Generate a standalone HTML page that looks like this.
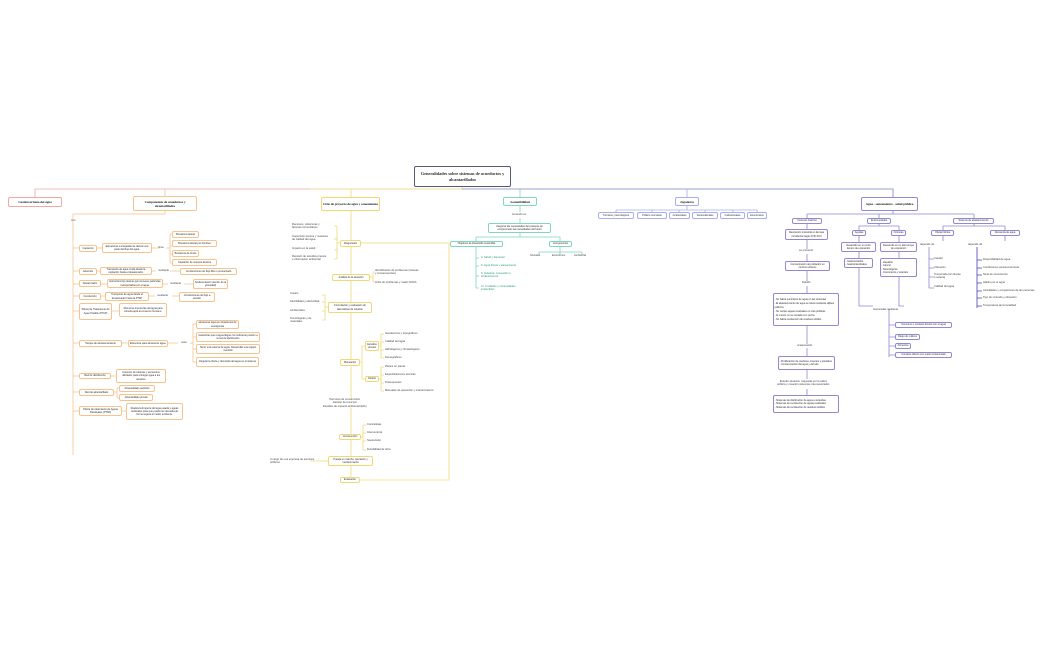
<!DOCTYPE html>
<html><head><meta charset="utf-8"><style>
body{margin:0;width:1050px;height:650px;background:#fff;position:relative;overflow:hidden;font-family:"Liberation Sans",sans-serif;}
.b{position:absolute;border:1px solid;border-radius:2px;background:#fff;font-size:2.6px;line-height:3.2px;text-align:center;display:flex;align-items:center;justify-content:center;box-sizing:border-box;color:#333;padding:0 0.5px;letter-spacing:-0.05px;}
.t{position:absolute;font-size:2.7px;line-height:3.4px;color:#444;white-space:nowrap;}
.o{border-color:#f5c48e}.y{border-color:#f0d877}.g{border-color:#7fd8b6}.u{border-color:#a6aef0}.p{border-color:#9189d2}
.L{text-align:left;justify-content:flex-start}
.h{font-weight:bold;font-family:"Liberation Serif",serif;color:#222;font-size:3.3px;line-height:4px}
svg{position:absolute;left:0;top:0}
</style></head><body>
<svg width="1050" height="650" fill="none" stroke-width="0.8">
<path d="M35 197V189H310" stroke="#f3a6a4"/>
<path d="M165 196V189" stroke="#f5c48e"/>
<path d="M310 189H462V187" stroke="#f0cf77"/>
<path d="M351 197V189" stroke="#f0d877"/>
<path d="M462 189H893V197" stroke="#7b83c8"/>
<path d="M520 197V189" stroke="#7fd8b6"/>
<path d="M687 197V189" stroke="#a6aef0"/>
<g stroke="#f5c48e">
<path d="M165 211V214H73V455"/>
<path d="M73 248H79M97 248H102M152 248H158M166 248H170M170 234V263M170 234H172M170 246H172M170 254H172M170 263H172"/>
<path d="M73 271H79M97 271H100M152 271H156M170 271H180"/>
<path d="M73 284H79M101 284H107M163 284H168M184 284H193"/>
<path d="M73 296H79M101 296H105M149 296H155M172 296H179"/>
<path d="M73 311H79M112 311H119"/>
<path d="M73 343H79M122 343H128M168 343H178M190 343H193M193 324V362M193 324H196M193 337H196M193 349H196M193 362H196"/>
<path d="M73 376H79M111 376H116"/>
<path d="M73 392H79M114 392H117M117 388V398M117 388H119M117 398H119"/>
<path d="M73 411H79M122 411H126"/>
</g>
<g stroke="#f0d877">
<path d="M351 211V477"/>
<path d="M340 243H337M337 226V259M337 226H334M337 239H334M337 250H334M337 259H334"/>
<path d="M370 277H373M373 272V282M373 272H375M373 282H375"/>
<path d="M328 307H325M325 295V320M325 295H322M325 302H322M325 311H322M325 320H322"/>
<path d="M360 362H362M362 346V379M362 346H365M362 379H365M379 346H381M381 334V358M381 334H384M381 342H384M381 350H384M381 358H384M379 379H381M381 367V391M381 367H384M381 375H384M381 383H384M381 391H384"/>
<path d="M361 437H363M363 425V450M363 425H366M363 433H366M363 441H366M363 450H366"/>
<path d="M328 461H310"/>
<path d="M361 243H449V480H360"/>
</g>
<g stroke="#7fd8b6">
<path d="M520 206V212M520 218V223M520 233V237H476V241M476 237H560V241M476 247V288M476 258H479M476 266H479M476 276H479M476 288H479"/>
<path d="M560 247V252M539 252H582M539 252V255M560 252V255M582 252V255"/>
</g>
<path d="M687 206V210M616 210H757M616 210V212M652 210V212M679 210V212M705 210V212M733 210V212M757 210V212" stroke="#a6aef0"/>
<g stroke="#8f86d0">
<path d="M893 211V214M807 214H974M807 214V218M879 214V218M974 214V218"/>
<path d="M807 223V229M807 240V249M807 254V261M807 271V281M807 286V293M807 326V344M807 348V356M807 370V379M807 389V395"/>
<path d="M879 223V226M859 226H899M859 226V230M899 226V230M859 236V242M899 236V242M859 252V258M899 252V258"/>
<path d="M859 268V306H873M899 277V306H904M889 309V357M889 325H895M889 337H895M889 346H895M889 355H895"/>
<path d="M974 223V226M943 226H1005M943 226V230M1005 226V230M943 236V241M1005 236V241"/>
<path d="M929 247V288M929 259H934M929 268H934M929 277H934M929 288H934"/>
<path d="M977 247V308M977 260H982M977 268H982M977 275H982M977 283H982M977 291H982M977 298H982M977 306H982" stroke="#4a3fbf"/>
</g>
</svg>

<div class="b" style="left:414px;top:166px;width:97px;height:21px;border-color:#5a5870;font-size:4.4px;line-height:5.5px;font-weight:bold;font-family:'Liberation Serif',serif;color:#333;">Generalidades sobre sistemas de acueductos y alcantarillados</div>

<div class="b h" style="left:8px;top:197px;width:54px;height:10px;border-color:#f3a6a4;">Gestión urbana del agua</div>
<div class="b o h" style="left:133px;top:196px;width:64px;height:15px;">Componentes de acueductos y alcantarillados</div>
<div class="b y h" style="left:321px;top:197px;width:59px;height:14px;">Ciclo de proyecto de agua y saneamiento</div>
<div class="b g h" style="left:503px;top:197px;width:34px;height:9px;">Sostenibilidad</div>
<div class="b u h" style="left:675px;top:197px;width:24px;height:9px;">Jugadores</div>
<div class="b p h" style="left:861px;top:197px;width:57px;height:14px;">Agua - saneamiento - salud pública</div>

<div class="t" style="left:71px;top:219px">con</div>
<div class="b o" style="left:79px;top:245px;width:18px;height:7px">Captación</div>
<div class="b o" style="left:102px;top:243px;width:50px;height:10px">Estructuras encargadas de derivar una parte del flujo del agua.</div>
<div class="t" style="left:158px;top:246px">tipos</div>
<div class="b o" style="left:172px;top:231px;width:27px;height:7px">Bocatoma lateral</div>
<div class="b o" style="left:172px;top:240px;width:45px;height:7px">Bocatoma lateral por bombeo</div>
<div class="b o" style="left:172px;top:250px;width:27px;height:7px">Bocatoma de fondo</div>
<div class="b o" style="left:172px;top:259px;width:45px;height:7px">Captación de cuerpos lénticos</div>
<div class="b o" style="left:79px;top:268px;width:18px;height:7px">Aducción</div>
<div class="b o" style="left:100px;top:267px;width:52px;height:8px">Transporte de agua cruda desde la captación hasta el desarenador.</div>
<div class="t" style="left:158px;top:269px">mediante</div>
<div class="b o" style="left:180px;top:268px;width:57px;height:7px">Conducciones de flujo libre o presurizado</div>
<div class="b o" style="left:79px;top:280px;width:22px;height:7px">Desarenador</div>
<div class="b o" style="left:107px;top:279px;width:56px;height:9px">Estructura tipo tanque que remueve partículas transportadas por el agua.</div>
<div class="t" style="left:170px;top:282px">mediante</div>
<div class="b o" style="left:193px;top:279px;width:35px;height:10px">Sedimentación (acción de la gravedad)</div>
<div class="b o" style="left:79px;top:293px;width:22px;height:7px">Conducción</div>
<div class="b o" style="left:105px;top:292px;width:44px;height:9px">Transporte de agua desde el desarenador hasta la PTAP</div>
<div class="t" style="left:157px;top:294px">mediante</div>
<div class="b o" style="left:179px;top:292px;width:36px;height:10px">Conducciones de flujo a presión</div>
<div class="b o" style="left:79px;top:303px;width:33px;height:17px">Planta de Tratamiento de Agua Potable (PTAP)</div>
<div class="b o" style="left:119px;top:303px;width:48px;height:14px">Remueve impurezas del agua para volverla apta al consumo humano.</div>
<div class="b o" style="left:79px;top:340px;width:43px;height:7px">Tanque de almacenamiento</div>
<div class="b o" style="left:128px;top:340px;width:40px;height:7px">Estructura para almacenar agua.</div>
<div class="t" style="left:181px;top:341px">usos</div>
<div class="b o" style="left:196px;top:320px;width:43px;height:9px">almacenar agua en situaciones de emergencia</div>
<div class="b o" style="left:196px;top:332px;width:64px;height:10px">Garantizar que el agua llegue con suficiente presión a la red de distribución</div>
<div class="b o" style="left:196px;top:344px;width:64px;height:10px">Tener una reserva de agua. Desarrollar una equipo invertido</div>
<div class="b o" style="left:196px;top:357px;width:63px;height:10px">Regular la oferta y demanda del agua en el sistema</div>
<div class="b o" style="left:79px;top:373px;width:32px;height:6px">Red de distribución</div>
<div class="b o" style="left:116px;top:369px;width:50px;height:14px">Conjunto de tuberías y accesorios utilizados para entregar agua a los usuarios.</div>
<div class="b o" style="left:79px;top:389px;width:35px;height:7px">Red de alcantarillado</div>
<div class="b o" style="left:119px;top:385px;width:36px;height:7px">Alcantarillado sanitario</div>
<div class="b o" style="left:119px;top:394px;width:34px;height:7px">Alcantarillado pluvial</div>
<div class="b o" style="left:79px;top:406px;width:43px;height:10px">Planta de tratamiento de Aguas Residuales (PTAR)</div>
<div class="b o" style="left:126px;top:403px;width:57px;height:17px">Realiza la limpieza del agua usada y aguas residuales para que pueda ser devuelta de forma segura al medio ambiente.</div>

<div class="t" style="left:292px;top:223px">Recursos, coberturas y<br>factores comunitarios</div>
<div class="t" style="left:292px;top:235px">Inspección técnica y muestreo<br>de calidad del agua</div>
<div class="t" style="left:292px;top:247px">Impacto en la salud</div>
<div class="t" style="left:292px;top:255px">Revisión de estudios previos<br>e información ambiental</div>
<div class="b y" style="left:340px;top:240px;width:21px;height:7px">Diagnóstico</div>
<div class="b y" style="left:332px;top:274px;width:38px;height:7px">Análisis de la situación</div>
<div class="t" style="left:375px;top:269px">Identificación de problemas (Causas<br>y consecuencias)</div>
<div class="t" style="left:375px;top:281px">Árbol de problemas y matriz DOFA</div>
<div class="t" style="left:290px;top:292px">Costos</div>
<div class="t" style="left:290px;top:300px">Factibilidad y efectividad</div>
<div class="t" style="left:290px;top:309px">Ambientales</div>
<div class="t" style="left:290px;top:317px">Tecnológicas y de<br>materiales</div>
<div class="b y" style="left:328px;top:302px;width:44px;height:11px">Formulación y evaluación de alternativas de solución</div>
<div class="b y" style="left:365px;top:341px;width:14px;height:10px">Estudios previos</div>
<div class="t" style="left:385px;top:332px">Geotécnicos y topográficos</div>
<div class="t" style="left:385px;top:340px">Calidad del agua</div>
<div class="t" style="left:385px;top:348px">Hidrológicos y climatológicos</div>
<div class="t" style="left:385px;top:356px">Demográficos</div>
<div class="b y" style="left:340px;top:359px;width:20px;height:7px">Planeación</div>
<div class="b y" style="left:365px;top:376px;width:14px;height:6px">Diseño</div>
<div class="t" style="left:385px;top:365px">Planos en planta</div>
<div class="t" style="left:385px;top:373px">Especificaciones técnicas</div>
<div class="t" style="left:385px;top:381px">Presupuestos</div>
<div class="t" style="left:385px;top:389px">Manuales de operación y mantenimiento</div>
<div class="t" style="left:323px;top:398px;text-align:center;background:#fff">Permisos de construcción<br>Gestión de recursos<br>Estudios de impacto ambiental (EIA)</div>
<div class="b y" style="left:339px;top:434px;width:22px;height:6px">Construcción</div>
<div class="t" style="left:367px;top:423px">Contratistas</div>
<div class="t" style="left:367px;top:431px">Interventoría</div>
<div class="t" style="left:367px;top:439px">Supervisión</div>
<div class="t" style="left:367px;top:448px">Durabilidad de obra</div>
<div class="b y" style="left:328px;top:456px;width:45px;height:10px">Puesta en marcha, operación y mantenimiento</div>
<div class="t" style="left:270px;top:458px">A cargo de una empresa de servicios<br>públicos</div>
<div class="b y" style="left:340px;top:477px;width:20px;height:6px">Evaluación</div>

<div class="t" style="left:512px;top:213px">tomando en</div>
<div class="b g" style="left:488px;top:223px;width:63px;height:10px">Asegurar las necesidades del presente sin comprometer las necesidades del futuro</div>
<div class="b g" style="left:450px;top:241px;width:53px;height:6px">Objetivos de Desarrollo sostenible</div>
<div class="b g" style="left:549px;top:241px;width:23px;height:6px">Componentes</div>
<div class="t" style="left:530px;top:254px">Sociales</div>
<div class="t" style="left:552px;top:254px">Económico</div>
<div class="t" style="left:574px;top:254px">Ambiental</div>
<div class="t" style="left:481px;top:256px;color:#2a9a70">3. Salud y bienestar</div>
<div class="t" style="left:481px;top:264px;color:#2a9a70">6. Agua limpia y saneamiento</div>
<div class="t" style="left:481px;top:272px;color:#2a9a70">9. Industria, innovación e<br>infraestructura</div>
<div class="t" style="left:481px;top:285px;color:#2a9a70">11. Ciudades y comunidades<br>sostenibles</div>

<div class="b u" style="left:598px;top:212px;width:36px;height:7px">Técnicos y tecnológicos</div>
<div class="b u" style="left:637px;top:212px;width:30px;height:7px">Político normativo</div>
<div class="b u" style="left:669px;top:212px;width:21px;height:7px">Ambientales</div>
<div class="b u" style="left:692px;top:212px;width:26px;height:7px">Socioculturales</div>
<div class="b u" style="left:720px;top:212px;width:25px;height:7px">Institucionales</div>
<div class="b u" style="left:747px;top:212px;width:20px;height:7px">Económicos</div>

<div class="b p" style="left:792px;top:218px;width:30px;height:6px">Contexto histórico</div>
<div class="b p" style="left:867px;top:218px;width:24px;height:6px">Enfermedades</div>
<div class="b p" style="left:953px;top:218px;width:41px;height:6px">Sistema de abastecimiento</div>
<div class="b p" style="left:785px;top:229px;width:43px;height:11px">Revolución industrial en Europa Occidental (siglo XVIII-XIX)</div>
<div class="t" style="left:799px;top:249px">se presentó</div>
<div class="b p" style="left:785px;top:261px;width:45px;height:10px">Concentración de población en centros urbanos</div>
<div class="t" style="left:802px;top:281px">Debido</div>
<div class="b p L" style="left:773px;top:293px;width:66px;height:33px;text-align:left;line-height:4px">- No había suministro de agua en las viviendas<br>- El abastecimiento de agua se hacía mediante aljibes públicos<br>- Se vertían aguas residuales en vías públicas<br>- Al menos no se contaba con pozos<br>- No había recolección de residuos sólidos</div>
<div class="t" style="left:797px;top:344px">ocasionando</div>
<div class="b p L" style="left:778px;top:356px;width:57px;height:14px;text-align:left">- Proliferación de roedores, insectos y parásitos<br>- Contaminación del agua y del aire</div>
<div class="t" style="left:777px;top:380px;text-align:center">Estudio situación mejorada por la salud<br>pública y creación sistemas más avanzados</div>
<div class="b p L" style="left:773px;top:395px;width:66px;height:18px;text-align:left">- Sistemas de distribución de agua a viviendas<br>- Sistemas de recolección de aguas residuales<br>- Sistemas de recolección de residuos sólidos</div>
<div class="b p" style="left:852px;top:230px;width:14px;height:6px">Agudas</div>
<div class="b p" style="left:891px;top:230px;width:15px;height:6px">Crónicas</div>
<div class="b p" style="left:841px;top:242px;width:35px;height:10px">Desarrollo en un corto tiempo de exposición</div>
<div class="b p" style="left:880px;top:242px;width:37px;height:10px">Desarrollo en un alto tiempo de exposición</div>
<div class="b p L" style="left:844px;top:258px;width:29px;height:10px;text-align:left">- Gastroenteritis<br>- Gastrointestinales</div>
<div class="b p L" style="left:880px;top:258px;width:37px;height:19px;text-align:left">- Hepatitis<br>- Cáncer<br>- Neurológicas<br>- Crecimiento y retardos</div>
<div class="t" style="left:873px;top:308px">Generadas mediante</div>
<div class="b p" style="left:895px;top:322px;width:57px;height:6px;white-space:nowrap">Consumo o contacto directo con el agua</div>
<div class="b p" style="left:895px;top:334px;width:25px;height:6px;white-space:nowrap">Riego de cultivos</div>
<div class="b p" style="left:895px;top:343px;width:16px;height:6px;white-space:nowrap">Alimentos</div>
<div class="b p" style="left:895px;top:352px;width:57px;height:6px;white-space:nowrap">Contacto directo con suelo contaminado</div>
<div class="b p" style="left:931px;top:230px;width:23px;height:6px;white-space:nowrap">Oferta hídrica</div>
<div class="b p" style="left:990px;top:230px;width:30px;height:6px;white-space:nowrap">Demanda de agua</div>
<div class="t" style="left:920px;top:243px">depende de</div>
<div class="t" style="left:934px;top:257px">Caudal</div>
<div class="t" style="left:934px;top:266px">Ubicación</div>
<div class="t" style="left:934px;top:273px">Temporada (sin lluvias<br>o sequía)</div>
<div class="t" style="left:934px;top:285px">Calidad del agua</div>
<div class="t" style="left:968px;top:243px">depende de</div>
<div class="t" style="left:983px;top:258px">Disponibilidad de agua</div>
<div class="t" style="left:983px;top:266px">Condiciones socioeconómicas</div>
<div class="t" style="left:983px;top:273px">Nivel de consciencia</div>
<div class="t" style="left:983px;top:281px">Hábito por el agua</div>
<div class="t" style="left:983px;top:289px">Actividades y ocupaciones de las personas</div>
<div class="t" style="left:983px;top:296px">Tipo de vivienda y ubicación</div>
<div class="t" style="left:983px;top:304px">Temperatura de la localidad</div>
</body></html>
